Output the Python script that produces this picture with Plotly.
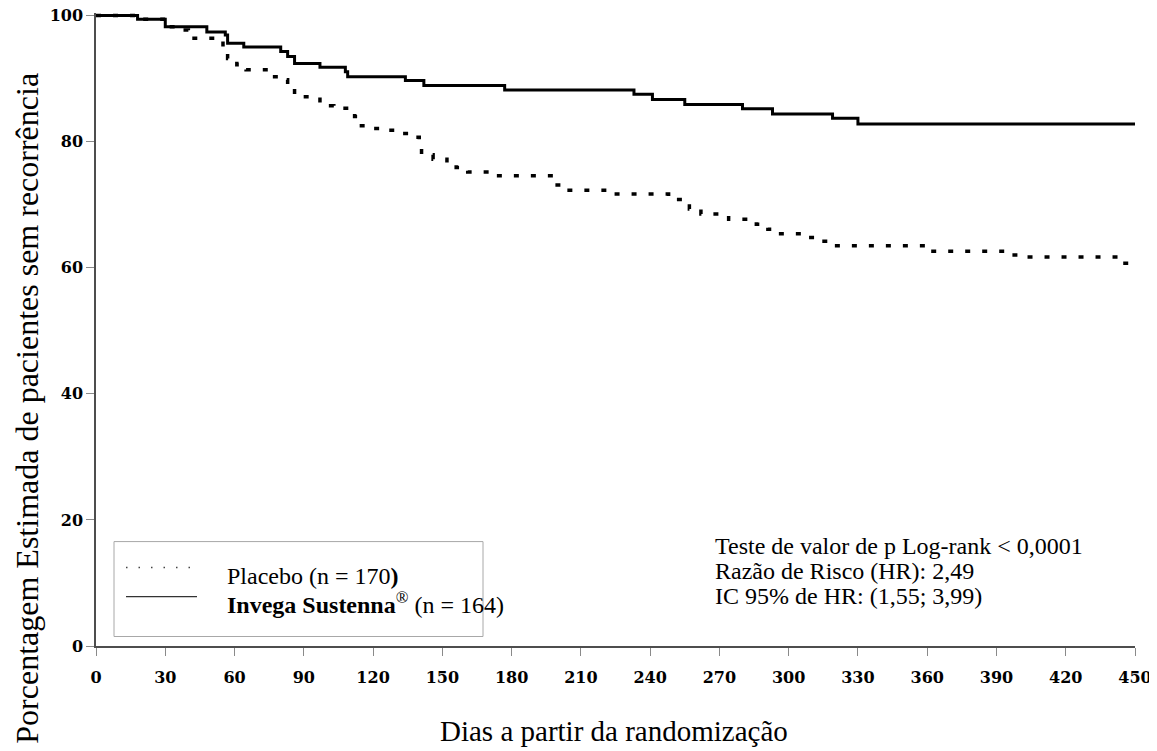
import plotly.graph_objects as go

# Kaplan-Meier step points (day, % without recurrence)
placebo_days = [0, 18, 30, 36, 40, 55, 57, 61, 65, 75, 80, 83, 86, 97, 103, 112, 114, 119, 127,
                132, 137, 140, 141, 146, 152, 156, 161, 173, 198, 202, 222, 248, 254, 257, 262,
                274, 286, 291, 295, 308, 313, 319, 360, 396, 402, 443, 450]
placebo_pct = [100, 99.4, 98.2, 97.7, 96.4, 94.6, 93.2, 92.2, 91.4, 90.3, 89.8, 88.5, 87.1, 85.7,
               85.3, 84.0, 82.5, 82.1, 81.8, 81.3, 80.7, 79.7, 77.9, 77.2, 76.6, 75.9, 75.2, 74.6,
               73.1, 72.3, 71.7, 70.8, 70.3, 69.3, 68.5, 67.7, 66.9, 66.1, 65.4, 64.8, 64.2, 63.5,
               62.6, 62.0, 61.7, 60.7, 60.7]

invega_days = [0, 18, 30, 48, 56, 57, 64, 80, 83, 86, 97, 108, 109, 134, 142, 177, 233, 241, 255,
               280, 293, 319, 330, 450]
invega_pct = [100, 99.4, 98.2, 97.4, 96.9, 95.6, 95.0, 94.3, 93.5, 92.4, 91.8, 91.1, 90.3, 89.7,
              88.9, 88.2, 87.5, 86.7, 85.9, 85.2, 84.4, 83.7, 82.8, 82.8]

x_ticks = list(range(0, 451, 30))
y_ticks = [0, 20, 40, 60, 80, 100]

legend_labels = ["Placebo (n = 170<b>)</b>", "<b>Invega Sustenna</b><sup>®</sup> (n = 164)"]
stats_lines = ["Teste de valor de p Log-rank < 0,0001",
               "Razão de Risco (HR): 2,49",
               "IC 95% de HR: (1,55; 3,99)"]

# page has an 8px body margin, so the figure is drawn 8px smaller and shifted
OFF = 8
W, H = 1157 - OFF, 751 - OFF
L, R, T, B = 88, 22, 5, 104.5


def px(x):
    # screen pixel (x) -> paper coordinate
    return (x - OFF - L) / (W - L - R)


def py(y):
    return (H - B - (y - OFF)) / (H - T - B)


serif = "Liberation Serif"
fig = go.Figure()

fig.add_trace(go.Scatter(x=invega_days, y=invega_pct, mode="lines", line_shape="hv",
                         line=dict(color="black", width=3), showlegend=False))
fig.add_trace(go.Scatter(x=placebo_days, y=placebo_pct, mode="lines", line_shape="hv",
                         line=dict(color="black", width=3.5, dash="5px,12px"), showlegend=False))

# hand-made legend box
fig.add_shape(type="rect", xref="paper", yref="paper", x0=px(114), x1=px(483), y0=py(637), y1=py(542),
              line=dict(color="#a8a8a8", width=1), fillcolor="white", layer="below")
fig.add_shape(type="line", xref="paper", yref="paper", x0=px(126), x1=px(192), y0=py(568), y1=py(568),
              line=dict(color="#444", width=1.5, dash="1.5px,11px"))
fig.add_shape(type="line", xref="paper", yref="paper", x0=px(126), x1=px(197), y0=py(597), y1=py(597),
              line=dict(color="#333", width=1.2))
for lab, yy in zip(legend_labels, [576, 603]):
    fig.add_annotation(text=lab, xref="paper", yref="paper", x=px(225), y=py(yy), xanchor="left",
                       yanchor="middle", showarrow=False, font=dict(family=serif, size=24, color="black"))

for line, yy in zip(stats_lines, [546, 571, 596]):
    fig.add_annotation(text=line, xref="paper", yref="paper", x=px(713), y=py(yy), xanchor="left",
                       yanchor="middle", showarrow=False, font=dict(family=serif, size=24, color="black"))

fig.add_annotation(text="Porcentagem Estimada de pacientes sem recorrência", xref="paper", yref="paper",
                   x=px(27), y=py(409), textangle=-90, showarrow=False, xanchor="center", yanchor="middle",
                   font=dict(family=serif, size=32, color="black"))
fig.add_annotation(text="Dias a partir da randomização", xref="paper", yref="paper",
                   x=px(614), y=py(732), showarrow=False, xanchor="center", yanchor="middle",
                   font=dict(family=serif, size=29, color="black"))

tickfont = dict(family="DejaVu Serif", size=16, color="black", weight="bold")
fig.update_xaxes(range=[0, 450], tickvals=x_ticks, showgrid=False, zeroline=False,
                 showline=True, linecolor="#4d4d4d", linewidth=1.5,
                 ticks="outside", ticklen=8, tickcolor="#8a8a8a", tickwidth=1,
                 tickfont=tickfont, ticklabelstandoff=8, automargin=False,
                 ticklabeloverflow="allow")
fig.update_yaxes(range=[0, 100.4], tickvals=y_ticks, showgrid=False, zeroline=False,
                 showline=True, linecolor="#4d4d4d", linewidth=1.5,
                 ticks="outside", ticklen=8, tickcolor="#8a8a8a", tickwidth=1,
                 tickfont=tickfont, automargin=False, ticklabeloverflow="allow")

fig.update_layout(width=W, height=H, margin=dict(l=L, r=R, t=T, b=B, autoexpand=False),
                  plot_bgcolor="white", paper_bgcolor="white", showlegend=False)

fig.write_html("out.html")
